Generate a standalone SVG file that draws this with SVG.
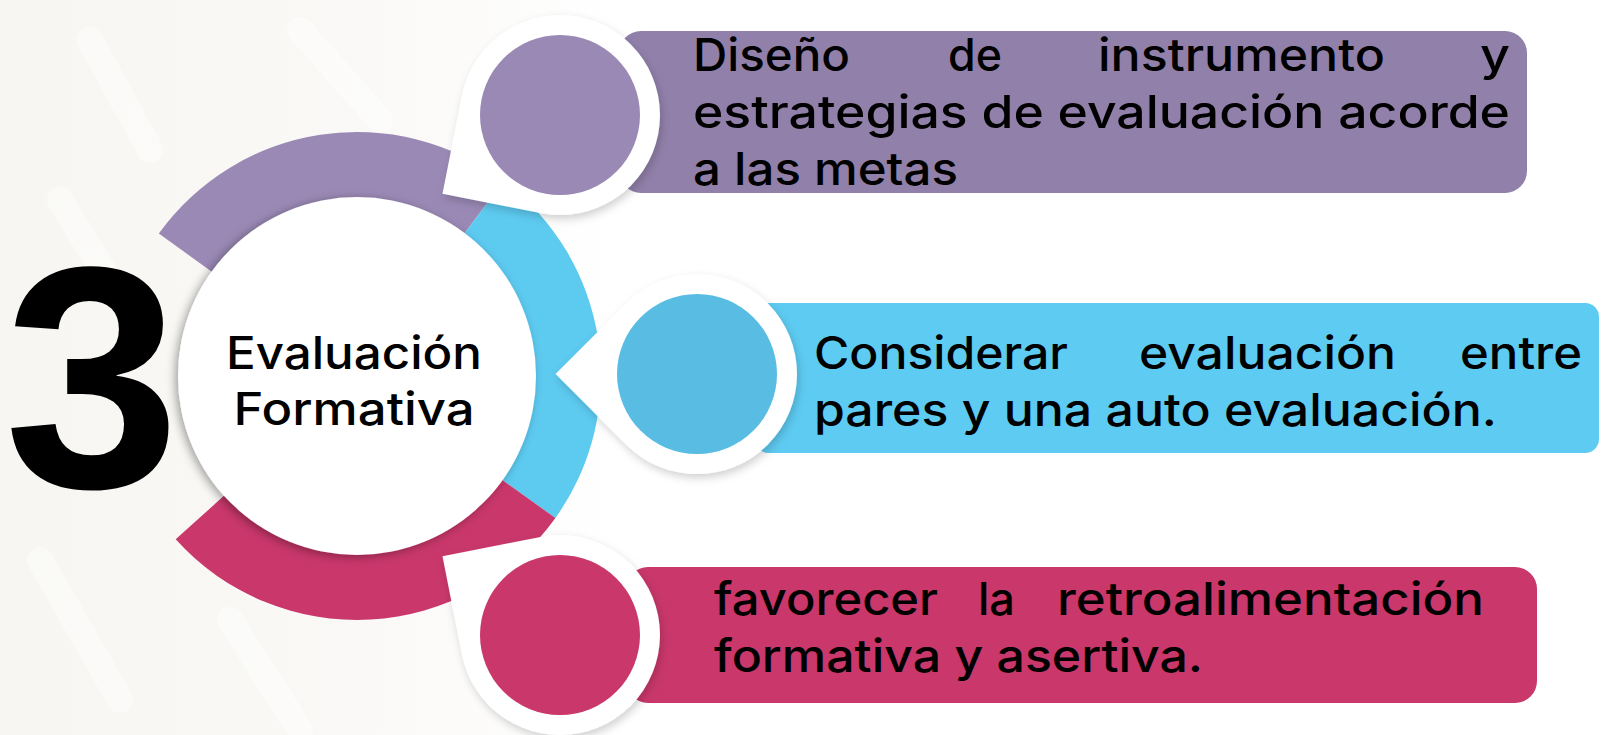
<svg xmlns="http://www.w3.org/2000/svg" width="1601" height="735" viewBox="0 0 1601 735">
  <style>
    .txt { font-family: Inter, "Noto Sans", "Open Sans", sans-serif; font-size: 45px; font-weight: 500; fill: #000; }
    .pinw { fill: #ffffff; filter: url(#pinShadow); }
  </style>
  <defs>
    <linearGradient id="bgGrad" x1="0" y1="0" x2="1" y2="0">
      <stop offset="0" stop-color="#F7F6F2"/>
      <stop offset="0.6" stop-color="#FAF9F7"/>
      <stop offset="1" stop-color="#FFFFFF"/>
    </linearGradient>
    <filter id="circShadow" x="-20%" y="-20%" width="140%" height="140%">
      <feDropShadow dx="-3" dy="2" stdDeviation="5" flood-color="#000" flood-opacity="0.35"/>
    </filter>
    <filter id="pinShadow" x="-20%" y="-20%" width="140%" height="140%">
      <feDropShadow dx="2" dy="4" stdDeviation="4" flood-color="#000" flood-opacity="0.18"/>
    </filter>
  </defs>

  <!-- background -->
  <rect x="0" y="0" width="1601" height="735" fill="#FFFFFF"/>
  <rect x="0" y="0" width="620" height="735" fill="url(#bgGrad)"/>
  <g fill="none" stroke="#FFFFFF" stroke-width="26" stroke-linecap="round" opacity="0.45">
    <path d="M 90 40 L 150 150"/>
    <path d="M 60 200 L 140 330"/>
    <path d="M 40 560 L 120 700"/>
    <path d="M 230 620 L 300 730"/>
    <path d="M 300 30 L 380 120"/>
  </g>

  <!-- big number -->
  <g id="number3">
    <text x="92" y="487" text-anchor="middle" font-family="'Liberation Sans', Arial, sans-serif" font-weight="bold" font-size="316" fill="#000">3</text>
  </g>

  <!-- text boxes (behind pins) -->
  <g id="box1">
    <rect x="619" y="31" width="908" height="162" rx="22" fill="#9180AA"/>
  </g>
  <g id="box2">
    <rect x="755" y="303" width="844" height="150" rx="14" fill="#5ECBF2"/>
  </g>
  <g id="box3">
    <rect x="626" y="567" width="911" height="136" rx="22" fill="#C9376B"/>
  </g>

  <!-- ring segments (connectors) -->
  <g id="connectors">
    <path d="M 158.8 233.6 A 244 244 0 0 1 503.8 181.1 L 462.3 236.2 A 175 175 0 0 0 214.9 273.9 Z" fill="#9A89B5"/>
    <path d="M 503.8 181.1 A 244 244 0 0 1 555.4 518.0 L 499.3 477.9 A 175 175 0 0 0 462.3 236.2 Z" fill="#5DCAF0"/>
    <path d="M 555.4 518.0 A 244 244 0 0 1 175.7 539.3 L 227.0 493.1 A 175 175 0 0 0 499.3 477.9 Z" fill="#C9376B"/>
  </g>

  <!-- center node -->
  <g id="center">
    <circle cx="357" cy="376" r="179" fill="#FFFFFF" filter="url(#circShadow)"/>
    <text class="txt" x="354" y="369" text-anchor="middle" textLength="256" lengthAdjust="spacingAndGlyphs">Evaluación</text>
    <text class="txt" x="354" y="425" text-anchor="middle" textLength="241" lengthAdjust="spacingAndGlyphs">Formativa</text>
  </g>

  <!-- pins -->
  <g id="pin1">
    <path class="pinw" d="M 442.5 193.7 L 461.9 95.6 A 100 100 0 1 1 540.6 213.1 Z"/>
    <circle cx="560" cy="115" r="80" fill="#9A89B5"/>
  </g>
  <g id="pin2">
    <path class="pinw" d="M 555.6 374 L 626.3 303.3 A 100 100 0 1 1 626.3 444.7 Z"/>
    <circle cx="697" cy="374" r="80" fill="#58BCE3"/>
  </g>
  <g id="pin3">
    <path class="pinw" d="M 442.5 556.3 L 540.6 536.9 A 100 100 0 1 1 461.9 654.4 Z"/>
    <circle cx="560" cy="635" r="80" fill="#C9376B"/>
  </g>

  <!-- box texts -->
  <g id="text1">
    <text class="txt" x="693" y="71" textLength="157" lengthAdjust="spacingAndGlyphs">Diseño</text>
    <text class="txt" x="948" y="71" textLength="54" lengthAdjust="spacingAndGlyphs">de</text>
    <text class="txt" x="1098" y="71" textLength="287" lengthAdjust="spacingAndGlyphs">instrumento</text>
    <text class="txt" x="1480" y="71" textLength="30" lengthAdjust="spacingAndGlyphs">y</text>
    <text class="txt" x="693" y="128" textLength="817" lengthAdjust="spacingAndGlyphs">estrategias de evaluación acorde</text>
    <text class="txt" x="693" y="185" textLength="265" lengthAdjust="spacingAndGlyphs">a las metas</text>
  </g>
  <g id="text2">
    <text class="txt" x="814" y="369" textLength="254" lengthAdjust="spacingAndGlyphs">Considerar</text>
    <text class="txt" x="1139" y="369" textLength="257" lengthAdjust="spacingAndGlyphs">evaluación</text>
    <text class="txt" x="1460" y="369" textLength="122" lengthAdjust="spacingAndGlyphs">entre</text>
    <text class="txt" x="814" y="426" textLength="683" lengthAdjust="spacingAndGlyphs">pares y una auto evaluación.</text>
  </g>
  <g id="text3">
    <text class="txt" x="714" y="615" textLength="224" lengthAdjust="spacingAndGlyphs">favorecer</text>
    <text class="txt" x="978" y="615" textLength="37" lengthAdjust="spacingAndGlyphs">la</text>
    <text class="txt" x="1057" y="615" textLength="427" lengthAdjust="spacingAndGlyphs">retroalimentación</text>
    <text class="txt" x="714" y="672" textLength="489" lengthAdjust="spacingAndGlyphs">formativa y asertiva.</text>
  </g>
</svg>
